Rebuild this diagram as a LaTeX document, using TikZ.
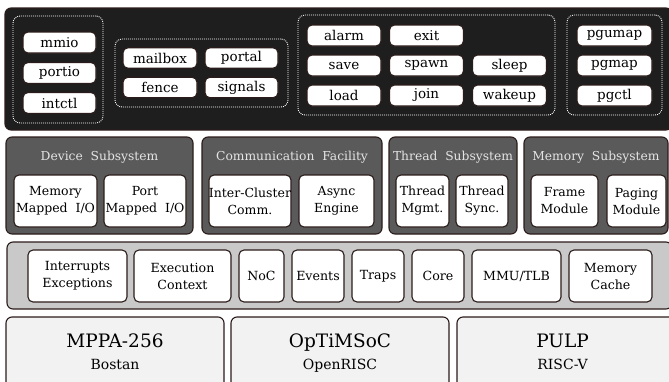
\documentclass[tikz,border=0pt]{standalone}
\usepackage{fontspec}
\setmainfont{DejaVu Serif}
\definecolor{edge}{HTML}{2A1C1A}
\definecolor{apibg}{HTML}{1E1E1E}
\definecolor{subbg}{HTML}{5A5A5A}
\definecolor{halbg}{HTML}{C9C9C9}
\definecolor{hwbg}{HTML}{F2F2F2}
\definecolor{titlefg}{HTML}{E4E4E4}
\begin{document}
\begin{tikzpicture}[x=1pt,y=-1pt,
  box/.style={draw=edge, line width=1.1pt, rounded corners=5pt, inner sep=0pt, align=center},
  call/.style={box, fill=white, minimum width=74pt, minimum height=21pt,
    font=\fontsize{13.5}{16}\selectfont},
  group/.style={draw=white, line width=0.9pt, dash pattern=on 0.9pt off 1.1pt,
    rounded corners=7pt, inner sep=0pt},
  layer/.style={box, rounded corners=6pt},
  subsys/.style={layer, fill=subbg},
  module/.style={box, fill=white, minimum height=52pt,
    font=\fontsize{12.5}{17}\selectfont},
  subtitle/.style={anchor=base, text=titlefg, font=\fontsize{12.3}{14}\selectfont},
  hal/.style={box, fill=white, minimum height=52pt,
    font=\fontsize{12.6}{17}\selectfont},
  board/.style={layer, fill=hwbg, minimum height=73pt},
  boardname/.style={anchor=base, font=\fontsize{18.5}{20}\selectfont},
  boardisa/.style={anchor=base, font=\fontsize{14}{16}\selectfont}]
\clip (0,0) rectangle (669,381);

% ---- kernel call interface ----
\node[layer, fill=apibg, minimum width=667pt, minimum height=122pt] (api) at (338.5,69) {};

\node[group, minimum width=90pt, minimum height=107pt] (gdev) at (58,69.5) {};
\node[call, minimum width=73pt] (mmio)   at (59.5,42.5) {mmio};
\node[call, minimum width=73pt] (portio) at (59.5,73)   {portio};
\node[call, minimum width=73pt] (intctl) at (59.5,103)  {intctl};

\node[group, minimum width=173pt, minimum height=68pt] (gcomm) at (201.5,73) {};
\node[call, minimum height=20.5pt] (mailbox) at (160,58)    {mailbox};
\node[call, minimum width=73pt, minimum height=20.5pt] (portal)  at (241.5,58)  {portal};
\node[call, minimum height=20.5pt] (fence)   at (160,87.5)  {fence};
\node[call, minimum width=73pt, minimum height=20.5pt] (signals) at (241.5,87.5) {signals};

\node[group, minimum width=257pt, minimum height=100pt] (gthr) at (426.5,65) {};
\node[call] (alarm)  at (344,35.5)   {alarm};
\node[call] (exit)   at (426.5,35.5) {exit};
\node[call] (save)   at (344,65.5)   {save};
\node[call] (spawn)  at (426.5,65.5) {spawn};
\node[call] (sleep)  at (509.5,65.5) {sleep};
\node[call] (load)   at (344,95.5)   {load};
\node[call] (join)   at (426.5,95.5) {join};
\node[call] (wakeup) at (509.5,95.5) {wakeup};

\node[group, minimum width=95pt, minimum height=100pt] (gmem) at (614.5,65) {};
\node[call, minimum width=75pt] (pgumap) at (614.5,35.5) {pgumap};
\node[call, minimum width=75pt] (pgmap)  at (614.5,65.5) {pgmap};
\node[call, minimum width=75pt] (pgctl)  at (614.5,95.5) {pgctl};

% ---- kernel subsystems ----
\node[subsys, minimum width=187pt, minimum height=97pt] (devsys) at (99.5,185.5) {};
\node[subtitle] (devsys-t) at (99.5,160) {Device\ \ Subsystem};
\node[module, minimum width=83pt] (mmapio) at (55.5,201) {Memory\\Mapped\ \ I/O};
\node[module, minimum width=82pt] (pmapio) at (145,201)  {Port\\Mapped\ \ I/O};

\node[subsys, minimum width=180pt, minimum height=97pt] (comsys) at (292,185.5) {};
\node[subtitle] (comsys-t) at (292,160) {Communication\ \ Facility};
\node[module, minimum width=82pt] (icc)   at (250,201)   {Inter-Cluster\\Comm.};
\node[module, minimum width=75pt] (async) at (336.5,201) {Async\\Engine};

\node[subsys, minimum width=128pt, minimum height=97pt] (thrsys) at (453,185.5) {};
\node[subtitle] (thrsys-t) at (453,160) {Thread\ \ Subsystem};
\node[module, minimum width=53pt] (tmgmt) at (422.5,201) {Thread\\Mgmt.};
\node[module, minimum width=52pt] (tsync) at (482,201)   {Thread\\Sync.};

\node[subsys, minimum width=144pt, minimum height=97pt] (memsys) at (596,185.5) {};
\node[subtitle] (memsys-t) at (596,160) {Memory\ \ Subsystem};
\node[module, minimum width=67pt] (frame)  at (564.5,201) {Frame\\Module};
\node[module, minimum width=59pt] (paging) at (636.5,201) {Paging\\Module};

% ---- hardware abstraction layer ----
\node[layer, fill=halbg, minimum width=665pt, minimum height=67pt] (hal) at (339.5,275.5) {};
\node[hal, minimum width=99pt] (intexc) at (77.5,276)  {Interrupts\\Exceptions};
\node[hal, minimum width=97pt] (ctx)    at (182.5,276) {Execution\\Context};
\node[hal, minimum width=45pt] (noc)    at (261.5,276) {NoC};
\node[hal, minimum width=52pt] (events) at (318,276)   {Events};
\node[hal, minimum width=52pt] (traps)  at (378,276)   {Traps};
\node[hal, minimum width=52pt] (core)   at (438,276)   {Core};
\node[hal, minimum width=89pt] (mmu)    at (516.5,276) {MMU/TLB};
\node[hal, minimum width=83pt] (cache)  at (610.5,276) {Memory\\Cache};

% ---- target platforms ----
\node[board, minimum width=218pt] (mppa) at (115,353.5) {};
\node[boardname] (mppa-n) at (115,347) {MPPA-256};
\node[boardisa]  (mppa-i) at (115,369) {Bostan};

\node[board, minimum width=218pt] (optimsoc) at (340,353.5) {};
\node[boardname] (optimsoc-n) at (340,347) {OpTiMSoC};
\node[boardisa]  (optimsoc-i) at (340,369) {OpenRISC};

\node[board, minimum width=223pt] (pulp) at (568.5,353.5) {};
\node[boardname] (pulp-n) at (562.5,347) {PULP};
\node[boardisa]  (pulp-i) at (562.5,369) {RISC-V};
\end{tikzpicture}
\end{document}
